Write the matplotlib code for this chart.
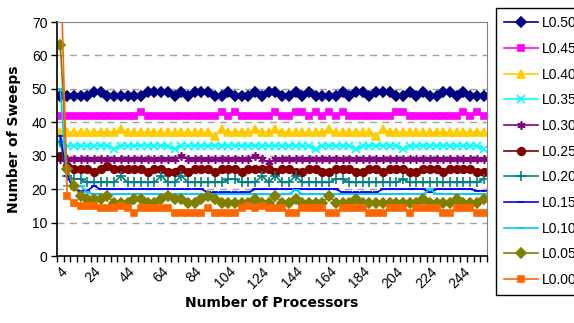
import numpy as np
import matplotlib.pyplot as plt

# processor counts (category axis, every 4)
procs = list(range(4, 260, 4))

L050 = [48, 48, 48, 48, 48, 49, 49, 48, 48, 48, 48, 48, 48, 49, 49, 49,
        49, 48, 49, 48, 49, 49, 49, 48, 48, 49, 48, 48, 48, 49, 48, 49,
        49, 48, 48, 49, 48, 49, 48, 48, 48, 48, 49, 48, 49, 49, 48, 49,
        49, 49, 48, 48, 49, 48, 49, 48, 48, 49, 49, 48, 49, 48, 48, 48]
L045 = [42, 42, 42, 42, 42, 42, 42, 42, 42, 42, 42, 42, 43, 42, 42, 42,
        42, 42, 42, 42, 42, 42, 42, 42, 43, 42, 43, 42, 42, 42, 42, 42,
        43, 42, 42, 43, 43, 42, 43, 42, 43, 42, 43, 42, 42, 42, 42, 42,
        42, 42, 43, 43, 42, 42, 42, 42, 42, 42, 42, 42, 43, 42, 43, 42]
L040 = [37, 37, 37, 37, 37, 37, 37, 37, 37, 38, 37, 37, 37, 37, 37, 37,
        37, 37, 37, 37, 37, 37, 37, 36, 38, 37, 37, 37, 37, 38, 37, 37,
        38, 37, 37, 37, 37, 37, 37, 37, 38, 37, 37, 37, 37, 37, 37, 36,
        38, 37, 37, 37, 37, 37, 37, 37, 37, 37, 37, 37, 37, 37, 37, 37]
L035 = [34, 33, 33, 33, 33, 33, 33, 33, 32, 33, 33, 33, 33, 33, 33, 33,
        33, 32, 33, 33, 33, 33, 33, 33, 33, 33, 33, 33, 33, 33, 33, 33,
        33, 33, 33, 33, 33, 33, 32, 33, 33, 33, 33, 33, 32, 33, 33, 33,
        33, 33, 33, 32, 33, 33, 33, 33, 33, 33, 33, 33, 33, 33, 33, 32]
L030 = [29, 29, 29, 29, 29, 29, 29, 29, 29, 29, 29, 29, 29, 29, 29, 29,
        29, 29, 30, 29, 29, 29, 29, 29, 29, 29, 29, 29, 29, 30, 29, 28,
        29, 29, 29, 29, 29, 29, 29, 29, 29, 29, 29, 29, 29, 29, 29, 29,
        29, 29, 29, 29, 29, 29, 29, 29, 29, 29, 29, 29, 29, 29, 29, 29]
L025 = [30, 27, 26, 26, 26, 25, 26, 27, 26, 26, 26, 26, 26, 25, 26, 26,
        25, 25, 26, 25, 26, 26, 26, 25, 26, 26, 26, 25, 26, 26, 26, 26,
        25, 26, 26, 25, 25, 26, 26, 25, 25, 26, 26, 26, 25, 25, 26, 26,
        25, 26, 26, 26, 25, 25, 26, 26, 26, 25, 26, 26, 26, 26, 25, 25]
L020 = [34, 24, 23, 23, 22, 22, 22, 22, 22, 24, 22, 22, 22, 22, 22, 24,
        22, 22, 24, 22, 22, 22, 22, 22, 22, 23, 23, 22, 22, 22, 24, 22,
        24, 22, 22, 24, 22, 22, 22, 22, 22, 23, 23, 22, 22, 22, 22, 22,
        22, 22, 22, 23, 22, 22, 22, 22, 22, 22, 22, 22, 22, 22, 22, 23]
L015 = [36, 24, 20, 19.5, 19.5, 21, 20, 20, 20, 20, 20, 20, 20, 20, 20, 20,
        20, 20, 20, 20, 20, 20, 19, 19, 19, 19, 19, 19, 19, 20, 20, 20,
        20, 20, 20, 20, 20, 20, 20, 20, 20, 20, 19, 19, 19, 19, 19, 19,
        20, 20, 20, 20, 20, 20, 20, 19, 20, 20, 20, 20, 20, 20, 19.5, 19.5]
L010 = [50, 21, 21, 21, 19, 18.5, 18.5, 18.5, 18.5, 18.5, 18.5, 18.5, 18.5, 18.5, 18.5, 18.5,
        18.5, 18.5, 18.5, 18.5, 18.5, 18.5, 18.5, 18.5, 18.5, 18.5, 18.5, 18.5, 18.5, 18.5, 18.5, 18.5,
        18.5, 18.5, 18.5, 19.8, 18.5, 18.5, 18.5, 18.5, 18.5, 18.5, 18.5, 18.5, 18.5, 18.5, 18.5, 18.5,
        18.5, 18.5, 18.5, 18.5, 18.5, 18.5, 18.5, 20, 18.5, 18.5, 18.5, 18.5, 18.5, 18.5, 18.5, 18.5]
L005 = [63, 26, 21, 18, 17, 17, 17, 18, 16, 16, 16, 17, 17, 16, 16, 17,
        18, 17, 17, 16, 16, 17, 18, 17, 16, 16, 16, 16, 16, 17, 16, 16,
        18, 16, 16, 17, 16, 16, 16, 16, 18, 16, 16, 16, 17, 16, 16, 16,
        16, 16, 16, 16, 16, 16, 17, 16, 16, 16, 16, 17, 16, 16, 16, 17]
L000 = [90, 18, 16, 15, 15, 15, 14.5, 14.5, 14.5, 15, 14.5, 13, 14.5, 14.5, 14.5, 14.5,
        14.5, 13, 13, 13, 13, 13, 14.5, 13, 13, 13, 13, 14.5, 15, 14.5, 15, 14.5,
        14.5, 14.5, 13, 13, 14.5, 14.5, 14.5, 14.5, 13, 13, 14.5, 14.5, 14.5, 14.5, 13, 13,
        13, 14.5, 14.5, 14.5, 13, 14.5, 14.5, 14.5, 14.5, 13, 13, 14.5, 14.5, 14.5, 13, 13]

names = ["L0.50", "L0.45", "L0.40", "L0.35", "L0.30", "L0.25",
         "L0.20", "L0.15", "L0.10", "L0.05", "L0.00"]
series = [L050, L045, L040, L035, L030, L025, L020, L015, L010, L005, L000]
colors = ["#000080", "#FF00FF", "#FFCC00", "#00FFFF", "#800080", "#800000",
          "#008080", "#0000FF", "#00CCFF", "#808000", "#FF6600"]
markers = ["D", "s", "^", "x", (6, 2, 0), "o", "+", "_", "_", "D", "s"]
msizes = [4.8, 5, 5.5, 5.5, 6, 5.5, 6.5, 4, 6, 4.8, 5]

plt.rcParams["font.family"] = ["Liberation Sans", "DejaVu Sans"]

fig = plt.figure(figsize=(5.74, 3.23), dpi=100)
ax = fig.add_axes([57 / 574, 1 - 256 / 323, 430 / 574, 234 / 323])

x = np.arange(len(procs))
for name, vals, c, m, ms in zip(names, series, colors, markers, msizes):
    ax.plot(x, vals, color=c, marker=m, markersize=ms, markeredgecolor=c,
            markerfacecolor=c, markeredgewidth=1.2, linewidth=1.2, label=name)

ax.set_xlim(-0.5, len(procs) - 0.5)
ax.set_ylim(0, 70)
ax.set_yticks(range(0, 71, 10))
for yv in range(10, 70, 10):
    ax.axhline(yv, color="#A0A0A0", linestyle=(0, (5, 4)), linewidth=1, zorder=0)

ax.set_xticks(x[::5])
ax.set_xticklabels([str(p) for p in procs[::5]], rotation=45, ha="right",
                   rotation_mode="anchor", fontsize=10)
ax.set_xticks(np.arange(-0.5, len(procs)), minor=True)
ax.tick_params(axis="x", which="major", length=0, pad=6)
ax.tick_params(axis="x", which="minor", length=4, direction="out", width=1)
ax.tick_params(axis="y", length=4, width=1, labelsize=10, pad=3)

for s in ["top", "right"]:
    ax.spines[s].set_color("#808080")
ax.spines["left"].set_linewidth(1.2)
ax.spines["bottom"].set_linewidth(1.2)

ax.set_ylabel("Number of Sweeps", fontsize=10, fontweight="bold",
              family="DejaVu Sans", labelpad=8)
ax.set_xlabel("Number of Processors", fontsize=10, fontweight="bold",
              family="DejaVu Sans", labelpad=4)

fig.legend(loc="upper left", bbox_to_anchor=(496 / 574, 1 - 8 / 323),
           borderaxespad=0, fancybox=False, edgecolor="black", framealpha=1,
           fontsize=10, handlelength=2.4, handletextpad=0.3,
           labelspacing=0.84, borderpad=0.6)

fig.savefig("out.png", dpi=100)
